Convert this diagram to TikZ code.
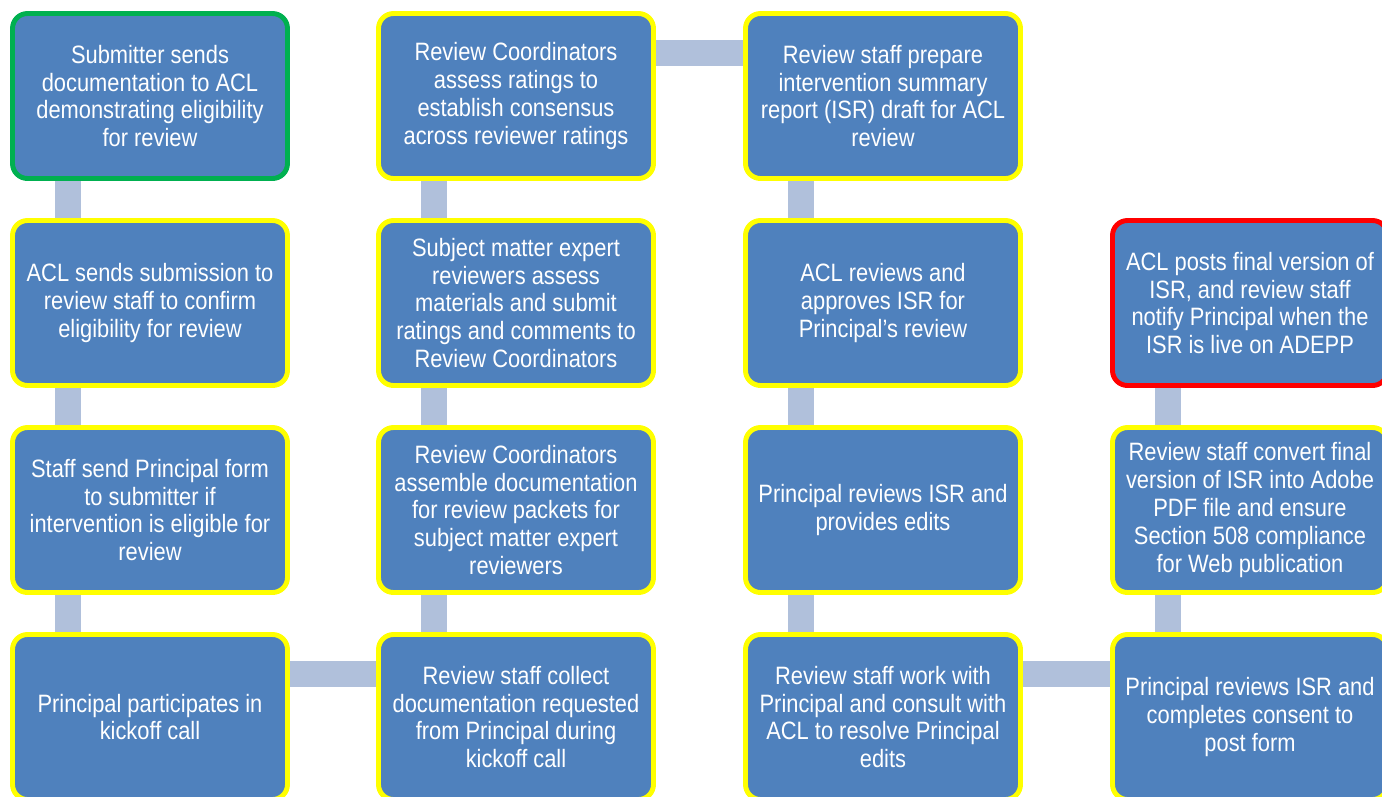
\documentclass[tikz,border=0pt]{standalone}
\usepackage{fontspec}
\setmainfont{Liberation Sans}[FakeStretch=0.87]
\usetikzlibrary{backgrounds}
\definecolor{stepfill}{HTML}{4F81BD}
\definecolor{linkcol}{HTML}{B0C0DB}
\definecolor{ylw}{HTML}{FFFF00}
\definecolor{startcol}{HTML}{00B050}
\definecolor{endcol}{HTML}{FF0000}

\begin{document}
\begin{tikzpicture}[
    stepbox/.style={draw=#1, fill=stepfill, line width=2.8pt, rounded corners=0.3cm,
      minimum width=5.5cm, minimum height=3.3cm, inner sep=0pt, text=white,
      align=center, font=\fontsize{14.3}{15.9}\selectfont},
    stepbox/.default=ylw,
    link/.style={draw=linkcol, line width=0.52cm}]
  \useasboundingbox (0,0) rectangle (27.64,-15.92);
  \clip (0,0) rectangle (27.64,-15.92);

  %% ── Column 1 ───────────────────────────────
  \node[stepbox=startcol] (s1) at (3.0,-1.92)
    {Submitter sends\\documentation to ACL\\demonstrating eligibility\\for review};
  \node[stepbox] (s2) at (3.0,-6.06)
    {ACL sends submission to\\review staff to confirm\\eligibility for review};
  \node[stepbox] (s3) at (3.0,-10.2)
    {Staff send Principal form\\to submitter if\\intervention is eligible for\\review};
  \node[stepbox] (s4) at (3.0,-14.34)
    {Principal participates in\\kickoff call};

  %% ── Column 2 (bottom to top) ───────────────
  \node[stepbox] (s5) at (10.32,-14.34)
    {Review staff collect\\documentation requested\\from Principal during\\kickoff call};
  \node[stepbox] (s6) at (10.32,-10.2)
    {Review Coordinators\\assemble documentation\\for review packets for\\subject matter expert\\reviewers};
  \node[stepbox] (s7) at (10.32,-6.06)
    {Subject matter expert\\reviewers assess\\materials and submit\\ratings and comments to\\Review Coordinators};
  \node[stepbox] (s8) at (10.32,-1.92)
    {Review Coordinators\\assess ratings to\\establish consensus\\across reviewer ratings};

  %% ── Column 3 ───────────────────────────────
  \node[stepbox] (s9) at (17.66,-1.92)
    {Review staff prepare\\intervention summary\\report (ISR) draft for ACL\\review};
  \node[stepbox] (s10) at (17.66,-6.06)
    {ACL reviews and\\approves ISR for\\Principal{\char"27}s review};
  \node[stepbox] (s11) at (17.66,-10.2)
    {Principal reviews ISR and\\provides edits};
  \node[stepbox] (s12) at (17.66,-14.34)
    {Review staff work with\\Principal and consult with\\ACL to resolve Principal\\edits};

  %% ── Column 4 (bottom to top) ───────────────
  \node[stepbox] (s13) at (25.0,-14.34)
    {Principal reviews ISR and\\completes consent to\\post form};
  \node[stepbox] (s14) at (25.0,-10.2)
    {Review staff convert final\\version of ISR into Adobe\\PDF file and ensure\\Section 508 compliance\\for Web publication};
  \node[stepbox=endcol] (s15) at (25.0,-6.06)
    {ACL posts final version of\\ISR, and review staff\\notify Principal when the\\ISR is live on ADEPP};

  %% connectors sit behind the boxes
  \begin{scope}[on background layer]
    \foreach \a/\b in {s1/s2, s2/s3, s3/s4, s9/s10, s10/s11, s11/s12}
      \draw[link] ([xshift=-1.64cm]\a.south) -- ([xshift=-1.64cm]\b.north);
    \foreach \a/\b in {s5/s6, s6/s7, s7/s8, s13/s14, s14/s15}
      \draw[link] ([xshift=-1.64cm]\a.north) -- ([xshift=-1.64cm]\b.south);
    \foreach \a/\b in {s4/s5, s8/s9, s12/s13}
      \draw[link] ([yshift=0.86cm]\a.east) -- ([yshift=0.86cm]\b.west);
  \end{scope}
\end{tikzpicture}
\end{document}
